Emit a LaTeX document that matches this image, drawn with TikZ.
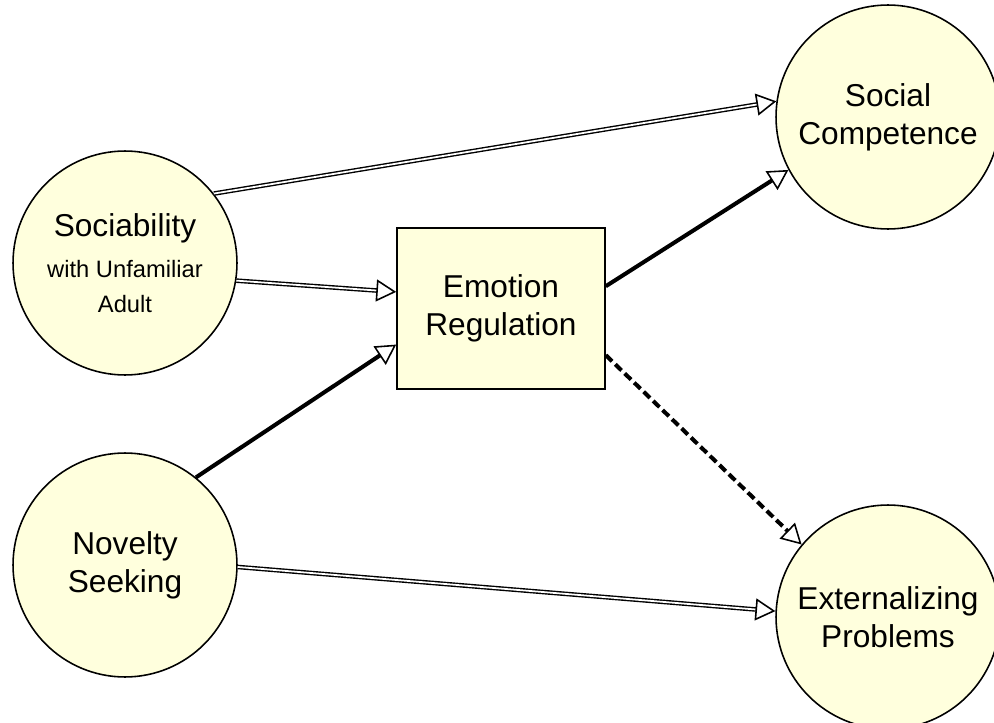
\documentclass[tikz,border=0pt]{standalone}
\usepackage{fontspec}
\setmainfont{Liberation Sans}
\usetikzlibrary{arrows.meta}
\definecolor{cream}{RGB}{255,255,221}
\newcommand{\subsize}{\fontsize{13.5}{17}\selectfont}
\begin{document}
\begin{tikzpicture}[x=0.02cm,y=-0.02cm,
	factor/.style={circle, fill=cream, draw=black, line width=0.9pt, minimum size=4.48cm, inner sep=0pt, align=center, font=\fontsize{18}{21.5}\selectfont},
	mediator/.style={rectangle, fill=cream, draw=black, line width=0.9pt, minimum width=4.16cm, minimum height=3.22cm, align=center, font=\fontsize{18}{21.5}\selectfont},
	tip/.style={-{Triangle[open, length=0.4cm, width=0.44cm, line width=0.9pt]}},
	weakpath/.style={tip, double, double distance=1pt, line width=0.8pt},
	strongpath/.style={tip, line width=2.3pt},
	negpath/.style={strongpath, dash pattern=on 5pt off 2.5pt}]
	\useasboundingbox (0,0) rectangle (994,723);
	% latent factors
	\node[factor] (soc) at (125,263) {Sociability\\[2pt]\subsize with Unfamiliar\\[-2pt]\subsize Adult};
	\node[factor] (nov) at (125,565) {Novelty\\Seeking};
	\node[factor] (comp) at (888,117) {Social\\Competence};
	\node[factor] (ext) at (888,617) {Externalizing\\Problems};
	\node[mediator] (emo) at (501,308.5) {Emotion\\Regulation};
	% paths
	\draw[weakpath] (soc.38.5) -- (comp.172.6);
	\draw[weakpath] (soc.-9.4) -- (emo.171.5);
	\draw[strongpath] (nov.51.5) -- (emo.199.3);
	\draw[strongpath] (emo.12.7) -- (comp.208);
	\draw[negpath] (emo.-24) -- (ext.140.8);
	\draw[weakpath] (nov.-1) -- (ext.177.3);
\end{tikzpicture}
\end{document}
